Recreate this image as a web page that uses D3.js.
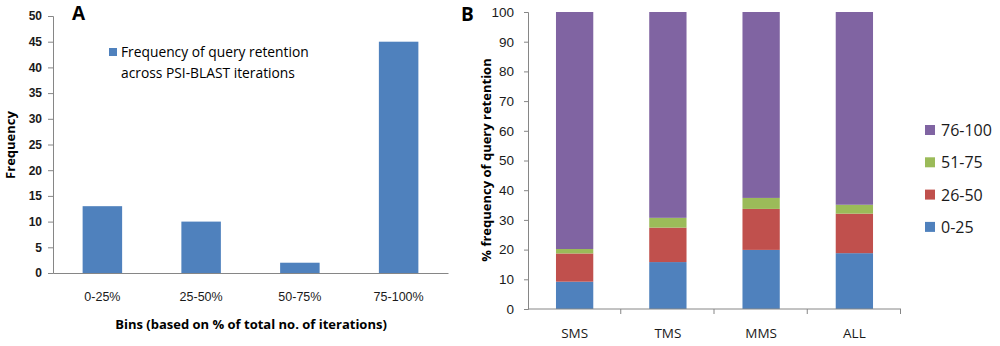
<!DOCTYPE html>
<html>
<head>
<meta charset="utf-8">
<script src="https://cdn.jsdelivr.net/npm/d3@7"></script>
<style>
  body { margin: 0; background: #fff; }
  svg { font-family: "Open Sans", "Liberation Sans", sans-serif; }
  .tick text { font-size: 13px; fill: #1a1a1a; }
  .domain, .tick line { stroke: #868686; }
  .title { font-weight: bold; font-size: 13px; fill: #000; }
</style>
</head>
<body>
<svg width="1000" height="346"></svg>
<script>
// panel A: histogram of retention bins
const bins = ["0-25%", "25-50%", "50-75%", "75-100%"];
const freq = [13, 10, 2, 45];
const freqTicks = [0, 5, 10, 15, 20, 25, 30, 35, 40, 45, 50];

// panel B: stacked % retention per group
const groups = ["SMS", "TMS", "MMS", "ALL"];
const ranges = ["0-25", "26-50", "51-75", "76-100"];
const r0_25 = [9.2, 15.8, 19.9, 18.8];
const r26_50 = [9.5, 11.6, 13.8, 13.3];
const r51_75 = [1.5, 3.3, 3.7, 3.0];
const r76_100 = [79.8, 69.3, 62.6, 64.9];
const pctTicks = [0, 10, 20, 30, 40, 50, 60, 70, 80, 90, 100];

const colors = ["#4F81BD", "#C0504D", "#9BBB59", "#8064A2"];

const svg = d3.select("svg");

// ---------- A ----------
const xA = d3.scaleBand().domain(bins).range([53, 448]).paddingInner(0.6).paddingOuter(0.3);
const yA = d3.scaleLinear().domain([0, 50]).range([273, 16]);

const gA = svg.append("g");

gA.append("g")
  .attr("transform", "translate(53,0)")
  .call(d3.axisLeft(yA).tickValues(freqTicks).tickSize(5).tickPadding(6))
  .call(g => g.selectAll(".tick text").style("font-weight", "bold").style("font-size", "12px"));

gA.selectAll("rect.bar")
  .data(freq)
  .enter()
  .append("rect")
  .attr("class", "bar")
  .attr("x", (d, i) => xA(bins[i]))
  .attr("y", d => yA(d))
  .attr("width", xA.bandwidth())
  .attr("height", d => yA(0) - yA(d))
  .style("fill", colors[0]);

gA.append("g")
  .attr("transform", `translate(0,${yA(0)})`)
  .call(d3.axisBottom(xA).tickSize(0).tickPadding(19))
  .call(g => g.selectAll(".tick text").style("font-size", "12.5px"));

gA.append("text")
  .attr("class", "title")
  .attr("transform", "rotate(-90)")
  .attr("x", -145).attr("y", 15)
  .attr("text-anchor", "middle")
  .text("Frequency");

gA.append("text")
  .attr("class", "title")
  .attr("x", 251).attr("y", 329)
  .attr("text-anchor", "middle")
  .text("Bins (based on % of total no. of iterations)");

gA.append("text")
  .attr("x", 72).attr("y", 20)
  .style("font-weight", "bold").style("font-size", "19px")
  .text("A");

gA.append("rect")
  .attr("x", 109).attr("y", 48).attr("width", 8).attr("height", 8)
  .style("fill", colors[0]);
gA.append("text")
  .attr("x", 121).attr("y", 57)
  .style("font-size", "13.8px")
  .text("Frequency of query retention");
gA.append("text")
  .attr("x", 121).attr("y", 78)
  .style("font-size", "13.8px")
  .text("across PSI-BLAST iterations");

// ---------- B ----------
const xB = d3.scaleBand().domain(groups).range([528, 901]).paddingInner(0.6).paddingOuter(0.3);
const yB = d3.scaleLinear().domain([0, 100]).range([309, 12]);

const gB = svg.append("g");

const table = groups.map((g, i) => ({
  group: g,
  "0-25": r0_25[i],
  "26-50": r26_50[i],
  "51-75": r51_75[i],
  "76-100": r76_100[i]
}));
const stacked = d3.stack().keys(ranges)(table);

gB.selectAll("g.layer")
  .data(stacked)
  .enter()
  .append("g")
  .attr("class", "layer")
  .style("fill", (d, i) => colors[i])
  .selectAll("rect")
  .data(d => d)
  .enter()
  .append("rect")
  .attr("x", d => xB(d.data.group))
  .attr("y", d => yB(d[1]))
  .attr("width", xB.bandwidth())
  .attr("height", d => yB(d[0]) - yB(d[1]));

gB.append("g")
  .attr("transform", "translate(528,0)")
  .call(d3.axisLeft(yB).tickValues(pctTicks).tickSize(4).tickPadding(10))
  .call(g => g.selectAll(".tick text").style("font-size", "13.5px"));

// category axis with ticks at band edges
const xAxisB = gB.append("g").attr("transform", `translate(0,${yB(0)})`);
xAxisB.append("line")
  .attr("x1", 528).attr("x2", 901)
  .style("stroke", "#868686");
const step = xB.step();
xAxisB.selectAll("line.sep")
  .data(groups)
  .enter()
  .append("line")
  .attr("class", "sep")
  .attr("x1", (d, i) => 528 + step * (i + 1) - 0.5)
  .attr("x2", (d, i) => 528 + step * (i + 1) - 0.5)
  .attr("y1", 0).attr("y2", 5)
  .style("stroke", "#868686");
xAxisB.selectAll("text")
  .data(groups)
  .enter()
  .append("text")
  .attr("x", d => xB(d) + xB.bandwidth() / 2)
  .attr("y", 29)
  .attr("text-anchor", "middle")
  .style("font-size", "13.5px")
  .style("fill", "#1a1a1a")
  .text(d => d);

gB.append("text")
  .attr("class", "title")
  .attr("transform", "rotate(-90)")
  .attr("x", -160).attr("y", 491)
  .attr("text-anchor", "middle")
  .text("% frequency of query retention");

gB.append("text")
  .attr("x", 461).attr("y", 21)
  .style("font-weight", "bold").style("font-size", "19px")
  .text("B");

const legendB = gB.selectAll("g.leg")
  .data(ranges.slice().reverse())
  .enter()
  .append("g")
  .attr("class", "leg")
  .attr("transform", (d, i) => `translate(925,${130 + i * 32.3})`);
legendB.append("rect")
  .attr("x", 0).attr("y", -5).attr("width", 10).attr("height", 10)
  .style("fill", d => colors[ranges.indexOf(d)]);
legendB.append("text")
  .attr("x", 16).attr("y", 6)
  .style("font-size", "16px")
  .style("fill", "#1a1a1a")
  .text(d => d);
</script>
</body>
</html>
